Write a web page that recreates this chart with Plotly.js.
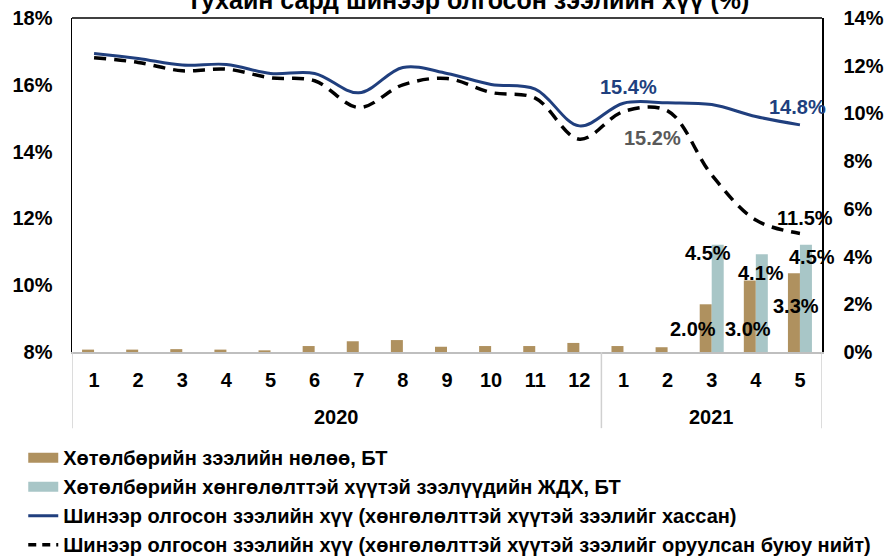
<!DOCTYPE html>
<html>
<head>
<meta charset="utf-8">
<script src="https://cdn.plot.ly/plotly-3.0.1.min.js"></script>
<style>
html,body{margin:0;padding:0;background:#fff;}
#chart{width:887px;height:558px;}
</style>
</head>
<body>
<div id="chart"></div>
<script>
const years = ['2020','2020','2020','2020','2020','2020','2020','2020','2020','2020','2020','2020','2021','2021','2021','2021','2021'];
const months = ['1','2','3','4','5','6','7','8','9','10','11','12','1','2','3','4','5'];
const programEffect = [0.1,0.1,0.12,0.1,0.07,0.25,0.45,0.5,0.22,0.25,0.25,0.38,0.25,0.2,2.0,3.0,3.3];
const concessionalWAR = [null,null,null,null,null,null,null,null,null,null,null,null,null,null,4.5,4.1,4.5];
const rateExcl = [16.94,16.79,16.59,16.61,16.34,16.34,15.76,16.52,16.34,16.01,15.87,14.77,15.45,15.46,15.41,15.05,14.8];
const rateTotal = [16.81,16.67,16.42,16.47,16.21,16.12,15.32,16.0,16.19,15.77,15.6,14.37,15.2,15.22,13.3,11.95,11.55];

const names = [
  'Хөтөлбөрийн зээлийн нөлөө, БТ',
  'Хөтөлбөрийн хөнгөлөлттэй хүүтэй зээлүүдийн ЖДХ, БТ',
  'Шинээр олгосон зээлийн хүү (хөнгөлөлттэй хүүтэй зээлийг хассан)',
  'Шинээр олгосон зээлийн хүү (хөнгөлөлттэй хүүтэй зээлийг оруулсан буюу нийт)'
];
const titleText = 'Тухайн сард шинээр олгосон зээлийн хүү (%)';

const cBrown = '#AF915F';
const cTeal = '#A8C6C7';
const cNavy = '#203F7E';
const cBlack = '#000000';
const FONT = 'Liberation Sans, Arial, sans-serif';

// category positions (index along the axis)
const idx = months.map((m, i) => i);
const yearList = [...new Set(years)];
const yearCenters = yearList.map(y => {
  const ii = idx.filter(i => years[i] === y);
  return (ii[0] + ii[ii.length - 1]) / 2;
});
const boundaries = [-0.5].concat(yearList.map(y => {
  const ii = idx.filter(i => years[i] === y);
  return ii[ii.length - 1] + 0.5;
}));

const traces = [
  {type:'bar', x:idx, y:programEffect, yaxis:'y2', marker:{color:cBrown}, name:names[0], showlegend:false, hoverinfo:'skip'},
  {type:'bar', x:idx, y:concessionalWAR, yaxis:'y2', marker:{color:cTeal}, name:names[1], showlegend:false, hoverinfo:'skip'},
  {type:'scatter', mode:'lines', x:idx, y:rateExcl, yaxis:'y', line:{color:cNavy, width:3, shape:'spline', smoothing:1}, name:names[2], showlegend:false},
  {type:'scatter', mode:'lines', x:idx, y:rateTotal, yaxis:'y', line:{color:cBlack, width:3.5, dash:'12px,8px', shape:'spline', smoothing:1}, name:names[3], showlegend:false},
  // legend entries (no data drawn)
  {type:'scatter', mode:'lines', x:[null], y:[null], line:{color:cBrown, width:10}, name:names[0], legendgroup:'a'},
  {type:'scatter', mode:'lines', x:[null], y:[null], line:{color:cTeal, width:10}, name:names[1], legendgroup:'b'},
  {type:'scatter', mode:'lines', x:[null], y:[null], line:{color:cNavy, width:3}, name:names[2], legendgroup:'c'},
  {type:'scatter', mode:'lines', x:[null], y:[null], line:{color:cBlack, width:3.5, dash:'8px,6px'}, name:names[3], legendgroup:'d'}
];

const lblFont = {family:FONT, size:20, weight:'bold', color:'#000'};
function ann(i, yv, yref, text, dx, dy, color){
  return {x:i, y:yv, xref:'x', yref:yref, text:text, showarrow:false, xshift:dx, yshift:dy,
          font:Object.assign({}, lblFont, {color:color||'#000'})};
}
const pct = v => v.toFixed(1) + '%';
const annotations = [
  ann(12, rateExcl[12], 'y', pct(15.4), 5, 16, cNavy),
  ann(12, rateTotal[12], 'y', pct(rateTotal[12]), 29, -26, '#595959'),
  ann(16, rateExcl[16], 'y', pct(rateExcl[16]), -2, 18, cNavy),
  ann(16, rateTotal[16], 'y', pct(11.5), 5, 15, '#000'),
  ann(14, concessionalWAR[14], 'y2', pct(concessionalWAR[14]), -4, -8),
  ann(14, programEffect[14], 'y2', pct(programEffect[14]), -19, -25),
  ann(15, concessionalWAR[15], 'y2', pct(concessionalWAR[15]), 5, -19),
  ann(15, programEffect[15], 'y2', pct(programEffect[15]), -8, -49),
  ann(16, concessionalWAR[16], 'y2', pct(concessionalWAR[16]), 12, -12),
  ann(16, programEffect[16], 'y2', pct(programEffect[16]), -4, -33)
];
const tickFont = {family:FONT, size:20, weight:'bold', color:'#000'};
yearList.forEach((y, k) => {
  annotations.push({x:yearCenters[k], y:-0.195, xref:'x', yref:'paper', yanchor:'middle', text:y, showarrow:false, font:tickFont});
});

const shapes = [{type:'line', xref:'paper', yref:'paper', x0:0, x1:1, y0:1, y1:1, line:{color:'#000', width:1.5}}];
boundaries.forEach(b => {
  shapes.push({type:'line', xref:'x', yref:'paper', x0:b, x1:b, y0:0, y1:-0.228, line:{color:'#D0D0D0', width:1.5}});
});

const layout = {
  width:887, height:558,
  margin:{l:72, r:65, t:18, b:206, pad:0, autoexpand:false},
  paper_bgcolor:'#fff', plot_bgcolor:'#fff',
  font:{family:FONT, color:'#000'},
  title:{text:titleText, font:{family:FONT, size:25, weight:'bold', color:'#000'}, x:0.528, xanchor:'center', xref:'paper', y:1, yref:'container', yanchor:'middle'},
  barmode:'group', bargap:0.456, bargroupgap:0,
  showlegend:true,
  legend:{x:-0.065, xanchor:'left', y:-0.258, yanchor:'top', orientation:'v', bgcolor:'rgba(0,0,0,0)',
          font:{family:FONT, size:20, weight:'bold', color:'#000'}, tracegroupgap:7, itemwidth:30, traceorder:'normal'},
  xaxis:{type:'linear', range:[-0.5, idx.length - 0.5], tickvals:idx, ticktext:months, showline:true, linecolor:'#BFBFBF', linewidth:1.5,
         ticks:'', showgrid:false, zeroline:false, tickfont:tickFont, ticklabelstandoff:9, fixedrange:true},
  yaxis:{range:[8,18], dtick:2, ticksuffix:'%', showline:true, linecolor:'#000', linewidth:1.5, ticks:'', showgrid:false, zeroline:false,
         tickfont:tickFont, ticklabelstandoff:14, fixedrange:true},
  yaxis2:{range:[0,14], dtick:2, ticksuffix:'%', overlaying:'y', side:'right', showline:true, linecolor:'#000', linewidth:1.5, ticks:'', showgrid:false, zeroline:false,
          tickfont:tickFont, ticklabelstandoff:16, fixedrange:true},
  shapes:shapes,
  annotations:annotations
};

Plotly.newPlot('chart', traces, layout, {staticPlot:true, displayModeBar:false});
</script>
</body>
</html>
